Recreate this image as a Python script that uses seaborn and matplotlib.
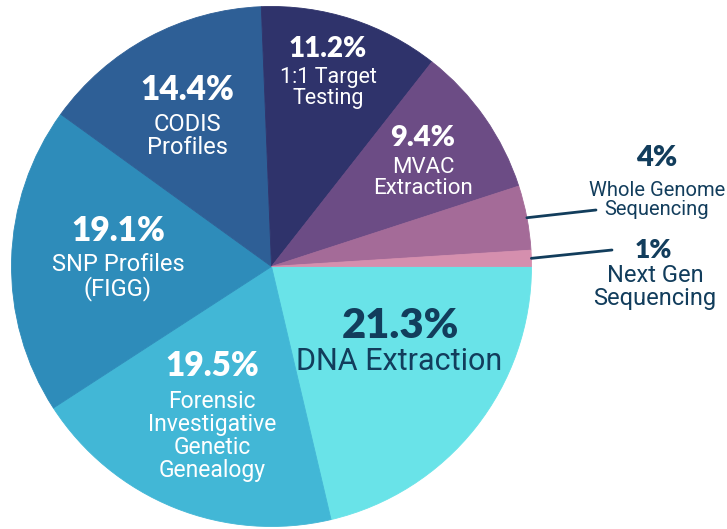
import numpy as np
import matplotlib.pyplot as plt
import seaborn as sns

# Data ------------------------------------------------------------
categories = ["DNA Extraction", "Forensic Investigative Genetic Genealogy",
              "SNP Profiles (FIGG)", "CODIS Profiles", "1:1 Target Testing",
              "MVAC Extraction", "Whole Genome Sequencing", "Next Gen Sequencing"]
shares = [21.3, 19.5, 19.1, 14.4, 11.2, 9.4, 4.0, 1.0]
pct_text = ["21.3%", "19.5%", "19.1%", "14.4%", "11.2%", "9.4%", "4%", "1%"]
name_text = ["DNA Extraction", "Forensic\nInvestigative\nGenetic\nGenealogy",
             "SNP Profiles\n(FIGG)", "CODIS\nProfiles", "1:1 Target\nTesting",
             "MVAC\nExtraction", "Whole Genome\nSequencing", "Next Gen\nSequencing"]

# Style -----------------------------------------------------------
palette = sns.color_palette(["#69E3E8", "#42B7D6", "#2E8CBA", "#2E5F96",
                             "#2F336B", "#6C4C85", "#A46B98", "#D58FAE"])
navy = "#123D5C"
W, H = 727, 529
cx, cy, R = 271.5, 266.5, 260

sns.set_theme(style="white")
plt.rcParams["font.family"] = ["Roboto", "DejaVu Sans"]

fig = plt.figure(figsize=(W / 100, H / 100), dpi=100)
ax = fig.add_axes([0, 0, 1, 1])

wedges, _ = ax.pie(shares, colors=palette, startangle=0, counterclock=False,
                   center=(cx, H - cy), radius=R,
                   wedgeprops=dict(linewidth=0.6))
for w in wedges:
    w.set_edgecolor(w.get_facecolor())
ax.set_xlim(0, W)
ax.set_ylim(0, H)
ax.set_aspect("equal")
ax.axis("off")

# label placement (pixel positions in the picture, y from top)
pct_pos = [(400, 326), (212, 366), (118, 231), (187, 90), (328, 49), (423, 138), (657, 158), (653, 250)]
pct_size = [30, 24, 24, 24, 20, 21, 21, 19]
name_pos = [(399, 361), (212, 436), (118, 277), (187, 136), (328, 88), (423, 178), (657, 200), (655, 287)]
name_size = [22, 16.5, 17, 17, 15.5, 16, 14.5, 17]
dark = [True, False, False, False, False, False, True, True]

for i in range(len(shares)):
    col = navy if dark[i] else "white"
    px, py = pct_pos[i]
    ax.text(px, H - py, pct_text[i], ha="center", va="center", color=col,
            fontsize=pct_size[i], fontweight="heavy", family=["Lato", "DejaVu Sans"])
    nx, ny = name_pos[i]
    ax.text(nx, H - ny, name_text[i], ha="center", va="center", color=col,
            fontsize=name_size[i], linespacing=1.0)

# leader lines for the two thin slices
line_ends = {6: (596, 210), 7: (612, 250)}
for i, (ex, ey) in line_ends.items():
    w = wedges[i]
    mid = np.deg2rad((w.theta1 + w.theta2) / 2)
    sx = cx + R * np.cos(mid)
    sy = (H - cy) + R * np.sin(mid)
    ax.annotate("", xy=(sx, sy), xytext=(ex, H - ey),
                arrowprops=dict(arrowstyle="-", color=navy, lw=2, shrinkA=0, shrinkB=0))

plt.savefig("out.png", dpi=100)
